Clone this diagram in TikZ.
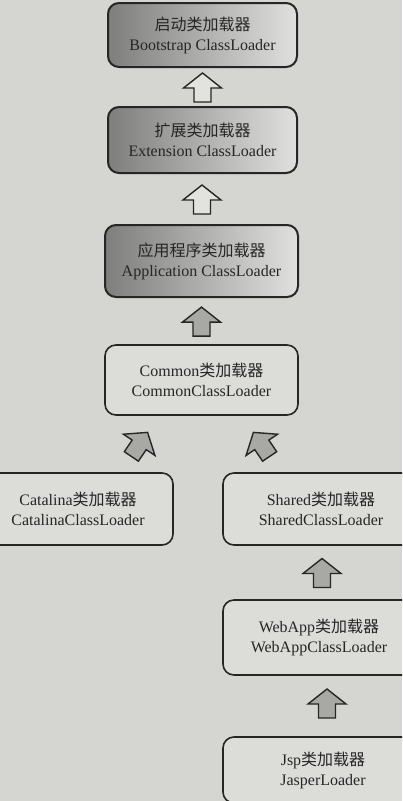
\documentclass[tikz,border=0pt]{standalone}
\usepackage{fontspec}
\setmainfont{Liberation Serif}
\newfontfamily\cjk{Noto Sans CJK SC}
\usetikzlibrary{calc}
\definecolor{paper}{HTML}{D5D5D1}
\definecolor{ink}{HTML}{262626}
\definecolor{agray}{HTML}{A8A8A5}
\definecolor{gdark}{HTML}{7E7E7C}
\definecolor{glight}{HTML}{E0E0DE}
\tikzset{
  box/.style={draw=ink, line width=1.6pt, rounded corners=11pt, align=center,
    font=\fontsize{16}{20}\selectfont, text=ink, inner sep=0pt},
  gbox/.style={box, line width=2pt, left color=gdark, right color=glight},
  wbox/.style={box, fill=glight!60!paper},
  barrow/.pic={\draw[pic actions] (0,-14) -- (19,1) -- (8.5,1) -- (8.5,15) -- (-8.5,15) -- (-8.5,1) -- (-19,1) -- cycle;},
  hollow/.style={draw=ink, line width=1.4pt, fill=paper!70!white, line join=miter},
  solid/.style={draw=ink, line width=1.4pt, fill=agray, line join=miter}
}
\begin{document}
\begin{tikzpicture}[x=1pt,y=-1pt]
\useasboundingbox (0,0) rectangle (402,801);
\clip (0,0) rectangle (402,801);
\fill[paper] (0,0) rectangle (402,801);

\node[gbox, minimum width=189pt, minimum height=64pt] (boot) at (202.5,35) {{\cjk 启动类加载器}\\Bootstrap ClassLoader};
\node[gbox, minimum width=189pt, minimum height=66pt] (ext) at (202.5,140) {{\cjk 扩展类加载器}\\Extension ClassLoader};
\node[gbox, minimum width=193pt, minimum height=72pt] (app) at (201.5,261) {{\cjk 应用程序类加载器}\\Application ClassLoader};
\node[wbox, minimum width=193pt, minimum height=70pt] (common) at (201.5,380) {Common{\cjk 类加载器}\\CommonClassLoader};
\node[wbox, minimum width=190pt, minimum height=72pt] (cat) at (78,509) {Catalina{\cjk 类加载器}\\CatalinaClassLoader};
\node[wbox, minimum width=196pt, minimum height=72pt] (shared) at (321,509) {Shared{\cjk 类加载器}\\SharedClassLoader};
\node[wbox, minimum width=192pt, minimum height=75pt] (webapp) at (319,637.5) {WebApp{\cjk 类加载器}\\WebAppClassLoader};
\node[wbox, minimum width=200pt, minimum height=66pt] (jsp) at (323,770) {Jsp{\cjk 类加载器}\\JasperLoader};

\pic[hollow] at ($(boot.south)!0.5!(ext.north)$) {barrow};
\pic[hollow] at ($(ext.south)!0.5!(app.north)$) {barrow};
\pic[solid] at ($(app.south)!0.5!(common.north)$) {barrow};
\pic[solid, rotate=-34] at ($(cat.north)!0.5!(common.south)$) {barrow};
\pic[solid, rotate=34] at ($(shared.north)!0.5!(common.south)$) {barrow};
\pic[solid] at ($(shared.south)!0.5!(webapp.north)+(2,0)$) {barrow};
\pic[solid] at ($(webapp.south)!0.5!(jsp.north)+(6,-3)$) {barrow};
\end{tikzpicture}
\end{document}
